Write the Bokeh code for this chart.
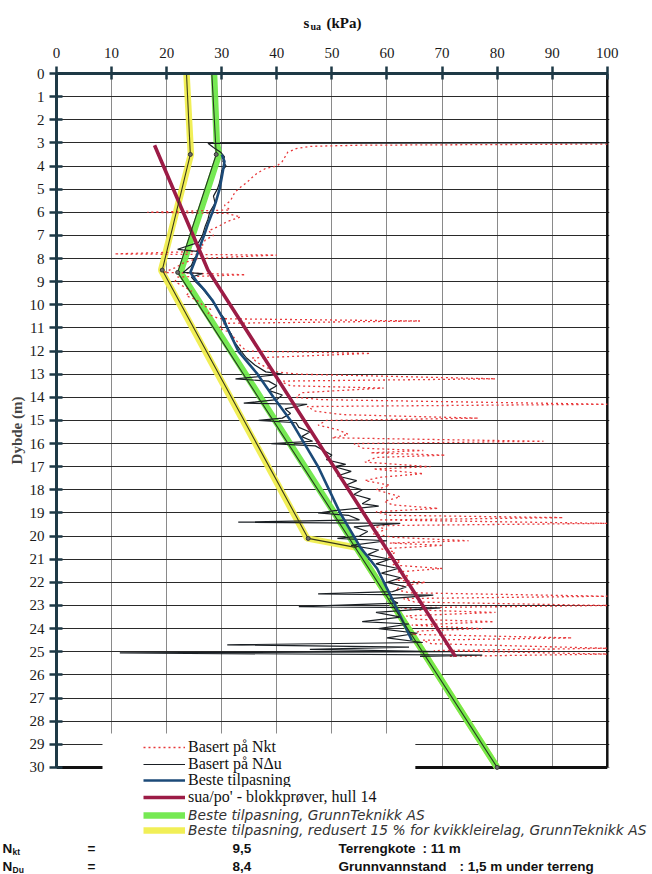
from bokeh.plotting import figure
from bokeh.layouts import column
from bokeh.models import Range1d, FixedTicker, Legend, LegendItem, Label, Plot
from bokeh.embed import file_html
from bokeh.resources import INLINE

# ---------------- data ----------------
x_ticks = [0, 10, 20, 30, 40, 50, 60, 70, 80, 90, 100]
y_ticks = list(range(0, 31))
x_max = 100
depth_max = 30

# Basert på Nkt (red dotted)
nkt_depth = [3.05, 3.1, 3.15, 3.25, 3.4, 3.6, 3.8, 4.0, 4.1, 4.3, 4.5, 4.7, 4.9, 5.1, 5.3, 5.5, 5.7, 5.9, 6.0, 6.05,
             6.2, 6.4, 6.6, 6.8, 7.0, 7.2, 7.4, 7.5, 7.7, 7.8, 7.85, 8.0, 8.2, 8.4, 8.6, 8.7, 8.8, 9.0, 9.2, 9.4,
             9.6, 9.8, 10.0, 10.2, 10.4, 10.6, 10.7, 10.8, 11.0, 11.2, 11.5, 11.8, 12.0, 12.1, 12.3, 12.5, 12.7, 12.9, 13.0, 13.2,
             13.3, 13.5, 13.6, 13.8, 14.0, 14.1, 14.3, 14.4, 14.6, 14.75, 14.9, 15.0, 15.2, 15.4, 15.6, 15.75, 15.9, 16.0, 16.2, 16.3,
             16.4, 16.5, 16.6, 16.8, 17.0, 17.1, 17.3, 17.45, 17.6, 17.8, 18.0, 18.2, 18.3, 18.5, 18.65, 18.8, 18.95, 19.1, 19.2, 19.3,
             19.45, 19.55, 19.7, 19.9, 20.05, 20.2, 20.3, 20.4, 20.55, 20.7, 20.9, 21.1, 21.25, 21.4, 21.55, 21.75, 21.9, 22.0, 22.15, 22.3,
             22.45, 22.6, 22.7, 22.85, 23.0, 23.1, 23.2, 23.3, 23.45, 23.6, 23.7, 23.85, 24.0, 24.1, 24.25, 24.4, 24.5, 24.65, 24.85, 24.95,
             25.1, 25.2]
nkt_sua = [100, 55, 46, 43.5, 42, 41.5, 41, 40, 38, 36.5, 35.5, 34.6, 33.5, 32.5, 32.0, 31.6, 30.5, 31.5, 16.5, 31.0,
           33.4, 31, 29.5, 27.6, 28.5, 27, 26.5, 26.7, 25, 10.5, 40.0, 25.5, 23, 21.5, 19.5, 34.3, 22, 21.5, 23, 24.5,
           23.5, 25.5, 26.5, 28, 27.5, 29.5, 66.0, 30.5, 29.5, 31.5, 32.5, 33.5, 34.5, 57.0, 35.5, 36.5, 38, 40, 44, 79.7,
           40.5, 42.5, 59.4, 44.5, 43.5, 48, 100, 45.5, 47, 52, 76.6, 49, 47.5, 51, 53, 50, 88.4, 54, 55.5, 66.6,
           57, 70.6, 58, 56, 67.9, 57.5, 66.6, 59, 56, 60.5, 58, 61, 62.4, 59.5, 61, 69.3, 58, 60.5, 92, 58.5,
           100, 57, 60, 57.5, 61, 74.8, 60.5, 70.2, 59, 61.5, 60, 62.5, 61, 70, 62, 64, 61.5, 67, 63, 61.5,
           64, 100, 63, 65, 100, 62.5, 66, 79.7, 63.5, 65.5, 79.4, 64.5, 77.3, 66, 64.5, 93.6, 66.5, 68, 100, 68.5,
           100, 71]

# Basert på NΔu (thin black)
ndu_depth = [3.0, 3.02, 3.2, 3.4, 3.6, 3.8, 4.0, 4.2, 4.5, 4.8, 5.0, 5.3, 5.6, 6.0, 6.3, 6.6, 7.0, 7.3, 7.6, 7.7,
             8.0, 8.3, 8.6, 8.65, 8.8, 9.0, 9.3, 9.6, 10.0, 10.3, 10.6, 11.0, 11.3, 11.6, 12.0, 12.3, 12.6, 12.9, 13.0, 13.1,
             13.2, 13.3, 13.5, 13.7, 13.9, 14.1, 14.25, 14.3, 14.5, 14.7, 14.9, 15.0, 15.1, 15.3, 15.5, 15.7, 15.9, 16.0, 16.1, 16.3,
             16.5, 16.7, 16.9, 17.0, 17.2, 17.4, 17.6, 17.8, 18.0, 18.2, 18.4, 18.6, 18.7, 18.9, 19.0, 19.1, 19.3, 19.4, 19.45, 19.6,
             19.8, 20.0, 20.1, 20.2, 20.4, 20.6, 20.8, 21.0, 21.2, 21.4, 21.6, 21.8, 22.0, 22.2, 22.4, 22.5, 22.55, 22.7, 22.9, 23.05,
             23.1, 23.3, 23.5, 23.7, 23.8, 24.0, 24.2, 24.4, 24.6, 24.7, 24.8, 24.9, 25.0, 25.05, 25.15, 25.2]
ndu_sua = [100, 27.5, 28.5, 29.8, 30.5, 30.2, 30.8, 30.0, 29.8, 29.5, 29.2, 28.5, 28.8, 27.8, 27.5, 27.0, 26.5, 25.8, 22.0, 26.0,
           25.0, 24.5, 23.0, 26.5, 24.5, 25.2, 26.5, 27.5, 28.8, 29.5, 30.5, 31.0, 31.8, 32.3, 33.5, 34.5, 36.0, 38.0, 41.0, 37.0,
           32.5, 38.5, 40.0, 38.5, 41.0, 40.0, 34.0, 45.5, 41.5, 42.5, 41.0, 36.7, 43.5, 44.0, 46.0, 44.5, 46.5, 39.0, 47.0, 48.5,
           50.0, 49.0, 52.5, 50.5, 53.5, 51.0, 54.5, 52.5, 55.5, 54.0, 57.0, 55.5, 58.5, 50.5, 47.5, 53.0, 55.0, 33.0, 62.4, 54.0,
           56.5, 55.0, 51.0, 60.0, 53.5, 58.5, 56.5, 60.5, 58.0, 62.0, 59.0, 62.5, 60.0, 63.5, 61.0, 47.5, 68.4, 60.5, 62.0, 44.0,
           69.7, 58.0, 62.5, 55.5, 64.0, 58.5, 65.5, 60.0, 66.5, 31.0, 64.0, 46.0, 72.0, 11.5, 77.3, 66.0]

# Beste tilpasning (blue)
best_depth = [3.5, 3.8, 4.1, 4.5, 5.0, 5.5, 6.0, 6.5, 7.0, 7.5, 8.0, 8.6, 9.0, 9.4, 9.8, 10.5, 11.0, 12.0, 13.0, 14.0,
              15.0, 16.2, 17.0, 18.0, 19.0, 20.5, 21.4, 22.5, 23.5, 24.5]
best_sua = [30.0, 30.5, 30.3, 30.0, 29.6, 29.0, 28.3, 27.5, 26.8, 26.0, 25.3, 24.3, 25.5, 27.0, 28.3, 30.0, 31.0, 33.0, 36.5, 39.4,
            42.5, 45.5, 47.5, 49.5, 51.5, 55.2, 58.2, 60.5, 62.5, 64.5]

# sua/po' - blokkprøver, hull 14 (maroon)
blokk_depth = [3.1, 8.5, 25.2]
blokk_sua = [17.8, 27.5, 72.4]

# Beste tilpasning, GrunnTeknikk AS (green) + drawn centre line
gt_depth = [0, 3.0, 3.5, 8.6, 30]
gt_sua = [28.6, 29.1, 29.5, 22.5, 80.0]
gt_ctr_depth = [0, 3.5, 8.6, 30]
gt_ctr_sua = [28.2, 29.0, 22.0, 80.0]

# Beste tilpasning, redusert 15 % (yellow) + drawn centre line
red_depth = [0, 3.5, 8.5, 20.1, 20.5, 30]
red_sua = [23.6, 24.4, 19.0, 45.5, 54.5, 80.0]
red_ctr_depth = [0, 3.5, 8.5, 20.1, 20.5]
red_ctr_sua = [23.6, 24.3, 19.2, 45.7, 54.5]

# ---------------- styles ----------------
ST_NKT = dict(line_color="#e8383a", line_width=1.3, line_dash="2 3")
ST_NDU = dict(line_color="#1a1f24", line_width=1.2)
ST_BEST = dict(line_color="#1c4a78", line_width=2.6)
ST_BLK = dict(line_color="#9c1c46", line_width=3.6)
ST_GRN = dict(line_color="#6fe84a", line_width=6.5, line_alpha=0.95)
ST_YEL = dict(line_color="#f0ee4e", line_width=6.5, line_alpha=0.95)

# ---------------- layout constants (pixels) ----------------
PW = 652
TOP_H = 33
MAIN_H = 754
BOT_H = 874 - TOP_H - MAIN_H
FRAME_L = 56
FRAME_T = 40
PX_X = 5.51
PX_Y = 23.13
x_end = 100.4
y_end = (MAIN_H - FRAME_T) / PX_Y
FRAME_R = PW - FRAME_L - int(round(x_end * PX_X))
MAIN_BOTTOM = TOP_H + MAIN_H      # page y of the main frame's bottom edge

HAS_ALIGN = "frame_align" in Plot.properties()


def strip(height, y0, y1):
    f = figure(width=PW, height=height, x_range=Range1d(0, PW), y_range=Range1d(y0, y1),
               output_backend="svg", toolbar_location=None, x_axis_type=None, y_axis_type=None,
               min_border=0, min_border_left=0, min_border_right=0, min_border_top=0, min_border_bottom=0)
    f.outline_line_color = None
    f.grid.visible = False
    if HAS_ALIGN:
        f.frame_align = False
    return f


def tlab(fig, text, x, y, size, font="Liberation Serif", style="bold", align="left", color="#111111"):
    fig.add_layout(Label(x=x, y=y, text=text, text_font=font, text_font_size=size,
                         text_font_style=style, text_align=align, text_baseline="middle",
                         text_color=color))


# ---------------- top strip: axis title ----------------
pt = strip(TOP_H, TOP_H, 0)
tlab(pt, "s", 303, 22, "15px")
tlab(pt, "ua", 310, 26, "10px")
tlab(pt, "(kPa)", 326, 22, "15px")

# ---------------- main figure ----------------
p = figure(width=PW, height=MAIN_H, x_range=Range1d(0, x_end), y_range=Range1d(y_end, 0),
           output_backend="svg", toolbar_location=None, x_axis_location="above",
           min_border_left=FRAME_L, min_border_right=FRAME_R, min_border_top=FRAME_T, min_border_bottom=0)
if HAS_ALIGN:
    p.frame_align = False
p.outline_line_color = None
p.background_fill_color = "white"

axis_col = "#1e3946"
for ax, tk in ((p.xaxis[0], x_ticks), (p.yaxis[0], y_ticks)):
    ax.ticker = FixedTicker(ticks=tk)
    ax.axis_line_width = 3
    ax.axis_line_color = axis_col
    ax.major_tick_line_width = 2.5
    ax.major_tick_line_color = axis_col
    ax.major_tick_in = 6
    ax.major_tick_out = 7
    ax.minor_tick_line_color = None
    ax.major_label_text_font = "Liberation Serif"
    ax.major_label_text_font_size = "15px"
    ax.major_label_text_color = "#1a1a1a"
p.xaxis.bounds = (0, x_max)
p.yaxis.bounds = (0, depth_max)
p.xaxis.major_label_standoff = 9
p.yaxis.major_label_standoff = 5
p.yaxis.axis_label = "Dybde (m)"
p.yaxis.axis_label_text_font = "Liberation Serif"
p.yaxis.axis_label_text_font_size = "15px"
p.yaxis.axis_label_text_font_style = "bold"
p.yaxis.axis_label_standoff = 2

p.xgrid.ticker = FixedTicker(ticks=x_ticks)
p.ygrid.ticker = FixedTicker(ticks=y_ticks)
p.xgrid.grid_line_color = "#8a8a8a"
p.xgrid.grid_line_width = 1
p.ygrid.grid_line_color = "#2a2a2a"
p.ygrid.grid_line_width = 1.1

# hide grid overrun below the chart box
p.quad(left=0, right=x_end, top=depth_max, bottom=y_end, fill_color="white", line_color=None)

# chart box borders (right and bottom)
p.line([x_max, x_max], [0, depth_max], line_color="#111111", line_width=2.5)
p.line([0, x_max], [depth_max, depth_max], line_color="#111111", line_width=3)

# white area behind the legend
p.quad(left=8.35, right=65.15, top=28.53, bottom=y_end, fill_color="white", line_color=None)

# series
r_yel = p.line(red_sua, red_depth, **ST_YEL)
r_grn = p.line(gt_sua, gt_depth, **ST_GRN)
r_nkt = p.line(nkt_sua, nkt_depth, **ST_NKT)
r_ndu = p.line(ndu_sua, ndu_depth, **ST_NDU)
r_best = p.line(best_sua, best_depth, **ST_BEST)
r_blk = p.line(blokk_sua, blokk_depth, **ST_BLK)
p.line(gt_ctr_sua, gt_ctr_depth, line_color="#263a20", line_width=1.1)
p.line(red_ctr_sua, red_ctr_depth, line_color="#3a3a1a", line_width=1.1)
p.scatter(gt_ctr_sua[1:], gt_ctr_depth[1:], size=4, fill_color="#6b6b6b", line_color="#333333")
p.scatter(red_ctr_sua[1:4], red_ctr_depth[1:4], size=4, fill_color="#6b6b6b", line_color="#333333")

common = dict(border_line_color=None, background_fill_alpha=0.0,
              padding=0, margin=0, glyph_width=42, glyph_height=12, label_height=12,
              label_standoff=3, label_text_baseline="middle", inactive_fill_alpha=0.0)
serif = dict(label_text_font="Liberation Serif", label_text_font_size="16px", label_text_color="#111111")
hand = dict(label_text_font="DejaVu Sans", label_text_font_size="13.8px", label_text_font_style="italic",
            label_text_color="#333333")

SERIF_HALF = 10.0   # half height of one serif legend row
HAND_HALF = 8.5     # half height of one handwritten-style legend row


def legend_row(fig, label, renderer, row_y, frame_bottom, style, half, x0):
    # one legend entry whose text is centred on page row row_y
    fig.add_layout(Legend(items=[LegendItem(label=label, renderers=[renderer])],
                          location=(x0, frame_bottom - (row_y + half)), **style, **common))


legend_row(p, "Basert på Nkt", r_nkt, 746, MAIN_BOTTOM, serif, SERIF_HALF, 143 - FRAME_L)
legend_row(p, "Basert på NΔu", r_ndu, 762.5, MAIN_BOTTOM, serif, SERIF_HALF, 143 - FRAME_L)
legend_row(p, "Beste tilpasning", r_best, 779, MAIN_BOTTOM, serif, SERIF_HALF, 143 - FRAME_L)

# ---------------- bottom strip: rest of legend + parameters ----------------
pb = strip(BOT_H, 874, MAIN_BOTTOM)
# the series again, here only as legend keys (their values lie outside this strip's view)
e_blk = pb.line(blokk_sua, blokk_depth, **ST_BLK)
e_grn = pb.line(gt_sua, gt_depth, **ST_GRN)
e_yel = pb.line(red_sua, red_depth, **ST_YEL)
legend_row(pb, "sua/po' - blokkprøver, hull 14", e_blk, 795.5, 874, serif, SERIF_HALF, 143)
legend_row(pb, "Beste tilpasning, GrunnTeknikk AS", e_grn, 814, 874, hand, HAND_HALF, 143)
legend_row(pb, "Beste tilpasning, redusert 15 % for kvikkleirelag, GrunnTeknikk AS", e_yel, 829, 874,
           hand, HAND_HALF, 143)

r1, r2 = 848, 866
f = "Liberation Sans"
fs = "13.5px"
tlab(pb, "N", 2, r1, fs, font=f)
tlab(pb, "kt", 12, r1 + 3, "8.5px", font=f)
tlab(pb, "=", 87, r1, fs, font=f)
tlab(pb, "9,5", 232, r1, fs, font=f)
tlab(pb, "Terrengkote", 338, r1, fs, font=f)
tlab(pb, ": 11 m", 422, r1, fs, font=f)
tlab(pb, "N", 2, r2, fs, font=f)
tlab(pb, "Du", 12, r2 + 3, "8.5px", font=f)
tlab(pb, "=", 87, r2, fs, font=f)
tlab(pb, "8,4", 232, r2, fs, font=f)
tlab(pb, "Grunnvannstand", 338, r2, fs, font=f)
tlab(pb, ": 1,5 m  under terreng", 459, r2, fs, font=f)

layout = column(pt, p, pb, spacing=0)
open("out.html", "w").write(file_html(layout, INLINE))
